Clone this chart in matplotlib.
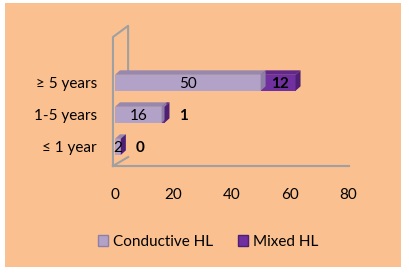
import matplotlib.pyplot as plt
from matplotlib.patches import Rectangle, Polygon

plt.rcParams['font.family'] = ['Lato', 'DejaVu Sans']

categories = ['≤ 1 year', '1-5 years', '≥ 5 years']
conductive = [2, 16, 50]
mixed = [0, 1, 12]
series = ['Conductive HL', 'Mixed HL']
xticks = [0, 20, 40, 60, 80]

W, H = 409, 274
fig = plt.figure(figsize=(W / 100, H / 100), dpi=100)
fig.patch.set_facecolor('white')
fig.patches.append(Rectangle((5 / W, 7 / H), 396 / W, 264 / H, transform=fig.transFigure,
                             facecolor='#FAC090', edgecolor='none', zorder=-10))

ax = fig.add_axes([115 / W, 108 / H, 233 / W, 128 / H])
ax.patch.set_alpha(0)
ax.set_xlim(0, 80)
ax.set_ylim(-0.6, 3.4)
for s in ax.spines.values():
    s.set_visible(False)

# back wall + floor (grey frame of the 3d chart)
wall = '#A0A0A0'
ax.plot([-0.7, -0.7, 4.5, 4.5], [-0.6, 3.43, 3.78, 2.3], color=wall, lw=1.5, clip_on=False, zorder=1)
ax.plot([-0.7, 4.5], [-0.6, -0.32], color=wall, lw=1.5, clip_on=False, zorder=1)
ax.plot([-0.7, 80.5], [-0.6, -0.6], color=wall, lw=1.5, clip_on=False, zorder=1)

ys = list(range(len(categories)))
h = 0.5
dx, dy = 1.7, 0.14
cols = [('#B3A2C7', '#9888AE', '#8F7FA6'), ('#7030A0', '#5F2889', '#4E1F73')]

def bar3d(y, left, width, c):
    front, top, side = c
    ax.add_patch(Rectangle((left, y - h / 2), width, h, facecolor=front, edgecolor='none', zorder=3))
    ax.add_patch(Polygon([(left, y + h / 2), (left + dx, y + h / 2 + dy),
                          (left + width + dx, y + h / 2 + dy), (left + width, y + h / 2)],
                         facecolor=top, edgecolor='none', zorder=3))
    ax.add_patch(Polygon([(left + width, y - h / 2), (left + width, y + h / 2),
                          (left + width + dx, y + h / 2 + dy), (left + width + dx, y - h / 2 + dy)],
                         facecolor=side, edgecolor='none', zorder=4))

for y, c, m in zip(ys, conductive, mixed):
    bar3d(y, 0, c, cols[0])
    bar3d(y, c, m, cols[1])
    ax.text(c / 2, y - 0.05, str(c), ha='center', va='center', fontsize=11, zorder=5)
    if m >= 5:
        ax.text(c + m / 2 + 0.5, y - 0.05, str(m), ha='center', va='center', fontsize=11,
                fontweight='bold', zorder=5)
    else:
        ax.text(c + m + 6.5, y - 0.05, str(m), ha='center', va='center', fontsize=11,
                fontweight='bold', zorder=5)

ax.set_yticks(ys)
ax.set_yticklabels(categories, fontsize=11)
ax.set_xticks(xticks)
ax.set_xticklabels([str(t) for t in xticks], fontsize=11)
ax.tick_params(axis='y', length=0, pad=13)
ax.tick_params(axis='x', length=0, pad=16)

handles = [Rectangle((0, 0), 1, 1, facecolor=cols[0][0], edgecolor=cols[0][2]),
           Rectangle((0, 0), 1, 1, facecolor=cols[1][0], edgecolor=cols[1][2])]
fig.legend(handles, series, loc='center', bbox_to_anchor=(208 / W, (274 - 242) / H), ncol=2,
           frameon=False, fontsize=11, handlelength=0.7, handleheight=0.7,
           handletextpad=0.3, columnspacing=1.6)

fig.savefig('out.png', dpi=100, facecolor=fig.get_facecolor())
